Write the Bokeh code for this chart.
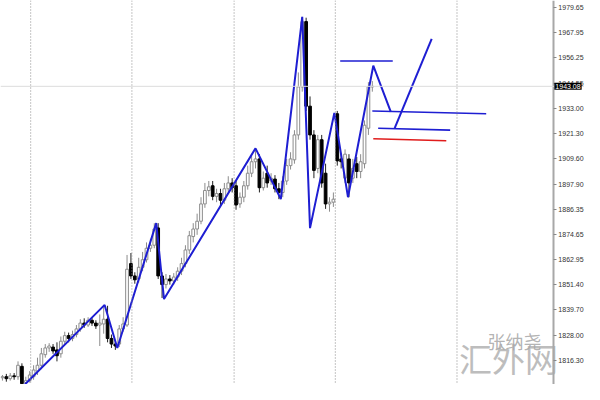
from bokeh.plotting import figure
from bokeh.models import Span, Label, FixedTicker, PrintfTickFormatter, ColumnDataSource
from bokeh.core.properties import value
from bokeh.embed import file_html
from bokeh.resources import INLINE

# ---- candle data (bar index, open, high, low, close) ----
opens = [1808.3, 1808.8, 1807.9, 1809.2, 1808.8, 1813.6, 1806.1, 1807.0, 1808.8, 1811.4,
         1814.1, 1819.0, 1822.1, 1822.5, 1821.2, 1819.4, 1825.2, 1827.8, 1826.5, 1828.3,
         1830.9, 1833.6, 1832.7, 1834.9, 1833.6, 1832.7, 1833.2, 1835.4, 1826.5, 1823.9,
         1823.9, 1830.9, 1832.7, 1861.1, 1855.4, 1854.0, 1859.4, 1862.9, 1868.2, 1869.6,
         1877.6, 1855.4, 1851.4, 1854.0, 1853.1, 1854.9, 1857.6, 1861.1, 1867.4, 1873.6,
         1877.1, 1880.7, 1888.7, 1894.9, 1897.1, 1892.2, 1893.5, 1890.4, 1895.7, 1898.4,
         1897.1, 1888.7, 1891.8, 1897.1, 1902.9, 1908.2, 1909.5, 1896.2, 1902.9, 1899.3,
         1900.2, 1895.7, 1894.0, 1899.3, 1906.4, 1909.1, 1920.6, 1942.8, 1973.0, 1933.9,
         1920.6, 1905.1, 1918.4, 1902.9, 1888.7, 1889.5, 1930.4, 1909.5, 1900.6, 1909.5,
         1900.6, 1907.3, 1903.7, 1907.3, 1923.7, 1942.8]
highs = [1809.6, 1810.1, 1810.5, 1810.5, 1815.9, 1815.0, 1808.8, 1811.4, 1814.1, 1817.6,
         1822.1, 1823.9, 1824.3, 1823.9, 1824.7, 1827.4, 1829.6, 1829.2, 1830.1, 1832.7,
         1835.4, 1835.8, 1836.3, 1836.3, 1834.9, 1837.6, 1841.6, 1841.6, 1828.3, 1825.6,
         1832.7, 1836.3, 1865.1, 1866.0, 1857.1, 1863.8, 1866.5, 1870.9, 1872.6, 1879.8,
         1879.8, 1857.1, 1856.3, 1855.8, 1856.7, 1859.4, 1863.8, 1869.6, 1876.2, 1879.8,
         1884.2, 1891.8, 1898.4, 1899.3, 1899.3, 1895.7, 1895.7, 1898.4, 1901.5, 1900.6,
         1899.3, 1894.0, 1899.3, 1906.4, 1910.8, 1914.0, 1911.7, 1903.7, 1906.4, 1902.9,
         1902.0, 1898.4, 1901.5, 1909.5, 1912.6, 1922.8, 1949.5, 1975.2, 1974.8, 1938.4,
         1922.8, 1920.6, 1920.6, 1907.3, 1891.8, 1894.0, 1931.7, 1911.7, 1913.9, 1911.7,
         1909.5, 1910.4, 1911.7, 1927.3, 1945.0, 1945.5]
lows = [1807.0, 1806.5, 1807.0, 1807.4, 1807.4, 1804.3, 1803.9, 1806.1, 1807.4, 1809.6,
        1812.3, 1817.6, 1820.3, 1819.4, 1815.9, 1817.6, 1823.9, 1824.7, 1825.2, 1827.0,
        1829.6, 1831.4, 1831.8, 1832.3, 1830.9, 1823.0, 1828.7, 1824.7, 1822.1, 1821.2,
        1822.5, 1829.6, 1831.8, 1854.0, 1851.8, 1852.3, 1857.6, 1861.6, 1866.5, 1868.2,
        1854.0, 1845.2, 1849.6, 1851.4, 1851.4, 1853.1, 1855.8, 1859.4, 1865.6, 1870.9,
        1874.4, 1879.3, 1886.9, 1892.2, 1890.4, 1889.5, 1887.8, 1888.7, 1894.0, 1894.0,
        1886.0, 1886.9, 1889.5, 1895.3, 1901.1, 1905.1, 1894.0, 1894.9, 1896.2, 1897.5,
        1894.0, 1890.9, 1891.8, 1897.5, 1904.6, 1907.3, 1918.4, 1940.6, 1931.7, 1918.4,
        1900.6, 1902.9, 1896.2, 1886.4, 1885.1, 1887.3, 1906.4, 1905.1, 1898.4, 1891.8,
        1898.4, 1900.6, 1900.6, 1905.1, 1920.6, 1940.6]
closes = [1808.8, 1807.9, 1809.2, 1808.8, 1814.1, 1805.6, 1807.0, 1809.6, 1811.9, 1814.1,
          1819.4, 1822.1, 1823.0, 1820.7, 1818.5, 1825.2, 1827.8, 1826.5, 1828.3, 1830.9,
          1833.6, 1832.7, 1834.9, 1833.6, 1832.3, 1833.6, 1835.4, 1826.5, 1823.9, 1823.0,
          1830.9, 1833.2, 1858.5, 1855.4, 1853.6, 1859.4, 1862.9, 1868.2, 1869.6, 1877.1,
          1855.4, 1851.4, 1854.0, 1853.1, 1854.9, 1857.6, 1861.1, 1867.4, 1874.0, 1877.1,
          1880.7, 1888.7, 1894.9, 1896.6, 1892.2, 1893.5, 1890.4, 1895.7, 1898.4, 1896.2,
          1888.2, 1891.8, 1897.1, 1902.9, 1908.2, 1909.5, 1896.2, 1900.6, 1898.4, 1900.6,
          1895.7, 1894.0, 1899.3, 1906.4, 1909.5, 1920.6, 1942.8, 1973.0, 1933.9, 1920.6,
          1904.2, 1918.4, 1898.4, 1888.7, 1889.5, 1890.9, 1908.6, 1908.2, 1911.7, 1898.4,
          1905.1, 1903.7, 1908.2, 1925.1, 1942.8, 1943.08]
bars = list(range(len(opens)))
last_price = 1943.08

# ---- right-axis tick labels ----
tick_values = [1979.65, 1967.95, 1956.25, 1944.55, 1933.00, 1921.30, 1909.60, 1897.90,
               1886.35, 1874.65, 1862.95, 1851.40, 1839.70, 1828.00, 1816.30, 1804.75]

# ---- hand-drawn zigzag (bar position, price) ----
zigzag_x = [5.75, 26.25, 29.5, 39.5, 41.5, 65.0, 71.5, 77.0, 79.0, 85.25, 88.75, 95.25, 99.75]
zigzag_y = [1805.2, 1842.0, 1822.1, 1879.8, 1844.7, 1914.4, 1890.9, 1975.2, 1877.5, 1930.8,
            1891.8, 1952.6, 1931.3]
# projection leg
proj_x = [100.75, 110.25]
proj_y = [1923.7, 1965.0]
# blue levels: (x0, x1, y0, y1)
blue_levels_x0 = [86.75, 95.0, 96.5]
blue_levels_x1 = [100.25, 124.25, 115.0]
blue_levels_y0 = [1954.8, 1931.7, 1923.7]
blue_levels_y1 = [1954.8, 1930.4, 1922.8]
# red level
red_x = [95.25, 114.0]
red_y = [1918.8, 1917.9]

# period separators (bar positions)
separators = [7.25, 33.25, 59.5, 85.5, 116.75]
axis_bar_pos = 141.5   # price scale sits right after this bar slot

up = [c >= o for o, c in zip(opens, closes)]
src = ColumnDataSource(dict(
    x=bars, o=opens, h=highs, l=lows, c=closes,
    top=[max(o, c) for o, c in zip(opens, closes)],
    bottom=[min(o, c) for o, c in zip(opens, closes)],
    fill=["#ffffff" if u else "#000000" for u in up],
    line=["#8c8c8c" if u else "#000000" for u in up],
    wick=["#8c8c8c" if u else "#222222" for u in up],
))

p = figure(width=584, height=384, x_range=(-0.5, 149.5), y_range=(1805.2, 1982.76),
           y_axis_location="right", output_backend="svg", toolbar_location=None, min_border=0)
p.xaxis.visible = False
p.xgrid.visible = False
p.ygrid.visible = False
p.outline_line_color = None
p.background_fill_color = "white"
p.border_fill_color = "white"

ax = p.yaxis[0]
ax.fixed_location = axis_bar_pos
ax.ticker = FixedTicker(ticks=tick_values)
ax.formatter = PrintfTickFormatter(format="%.2f")
ax.major_label_text_font = "Liberation Sans"
ax.major_label_text_font_size = "7px"
ax.major_label_text_color = "#333333"
ax.major_tick_out = 3
ax.major_tick_in = 0
ax.minor_tick_out = 0
ax.minor_tick_in = 0
ax.major_tick_line_color = "#888888"
ax.axis_line_color = "#a8a8a8"
ax.axis_line_width = 2
ax.major_label_standoff = 2

for s in separators:
    p.add_layout(Span(location=s, dimension="height", line_color="#8a8a8a",
                      line_dash="1 2", line_width=1))
p.add_layout(Span(location=last_price, dimension="width", line_color="#dcdcdc", line_width=1))

p.segment(x0="x", x1="x", y0="l", y1="h", source=src, line_color="wick", line_width=1)
p.vbar(x="x", top="top", bottom="bottom", width=0.7, source=src,
       fill_color="fill", line_color="line", line_width=1)

blue = "#1e1ed2"
p.line(zigzag_x, zigzag_y, line_color=blue, line_width=2)
p.line(proj_x, proj_y, line_color=blue, line_width=2)
p.segment(x0=blue_levels_x0, x1=blue_levels_x1, y0=blue_levels_y0, y1=blue_levels_y1,
          line_color=blue, line_width=1.6)
p.line(red_x, red_y, line_color="#e01c1c", line_width=1.6)

# watermark
p.text(x=[131.5], y=[1825.2], text=["张纳尧"], text_font=value("Noto Sans CJK SC"),
       text_font_size="18px", text_color="#a0a0a0", text_alpha=0.8,
       text_align="center", text_baseline="middle")
p.text(x=[130.0], y=[1817.5], text=["汇外网"], text_font=value("Noto Sans CJK SC"),
       text_font_size="33px", text_color="#a8a8a8", text_alpha=0.75,
       text_align="center", text_baseline="middle")

p.add_layout(Label(x=axis_bar_pos, y=last_price, x_offset=1, text=f"{last_price:.2f}",
                   text_font="Liberation Sans", text_font_size="7px", text_color="white",
                   background_fill_color="black", text_baseline="middle",
                   padding=1, level="overlay"))

open("out.html", "w").write(file_html(p, INLINE))
